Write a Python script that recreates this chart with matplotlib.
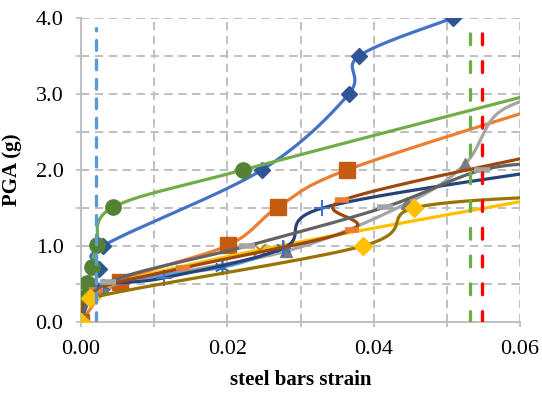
import numpy as np
import matplotlib
matplotlib.use("Agg")
import matplotlib.pyplot as plt

plt.rcParams['font.family'] = ['Liberation Serif', 'DejaVu Serif']
plt.rcParams['lines.scale_dashes'] = False

# ---------------- data ----------------
s1_x = [0, 0.0025, 0.003, 0.0247, 0.0366, 0.038, 0.0508]
s1_y = [0, 0.70, 1.00, 2.00, 3.00, 3.50, 4.00]

s2_x = [0, 0.0053, 0.0201, 0.0269, 0.0363, 0.065]
s2_y = [0, 0.53, 1.01, 1.51, 2.00, 2.89]

s3_x = [0, 0.003, 0.028, 0.0445, 0.0525, 0.057, 0.065]
s3_y = [0, 0.45, 0.93, 1.56, 2.08, 2.75, 3.05]

s4_x = [0, 0.002, 0.0245, 0.065]
s4_y = [0, 0.42, 0.95, 1.67]

s5_x = [0, 0.003, 0.0193, 0.0276]
s5_y = [0, 0.48, 0.72, 0.97]

s6_x = [0, 0.0001, 0.0008, 0.0015, 0.0022, 0.0044, 0.0221, 0.065]
s6_y = [0, 0.31, 0.51, 0.73, 1.01, 1.51, 2.00, 3.08]

s7_x = [0, 0.002, 0.0113, 0.0276, 0.033, 0.065]
s7_y = [0, 0.45, 0.58, 0.97, 1.50, 2.02]

s8_x = [0, 0.002, 0.0139, 0.037, 0.0357, 0.065]
s8_y = [0, 0.42, 0.71, 1.21, 1.60, 2.25]

s9_x = [0, 0.0037, 0.0227, 0.0415, 0.0548, 0.065]
s9_y = [0, 0.52, 1.00, 1.51, 2.00, 2.10]

s10_x = [0, 0.0012, 0.0385, 0.0455, 0.065]
s10_y = [0, 0.31, 1.00, 1.50, 1.66]

limit_x = [0.0021, 0.0531, 0.0548]
limit_top = 3.87

x_ticks = [0.00, 0.02, 0.04, 0.06]
y_ticks = [0.0, 1.0, 2.0, 3.0, 4.0]
x_label = "steel bars strain"
y_label = "PGA (g)"

# ---------------- Excel-like smoothing ----------------
XR, YR = 0.06, 4.0
SX, SY = 439 / XR, 304 / YR


def smooth(xs, ys, n=40):
    P = np.column_stack([np.asarray(xs, float) * SX, np.asarray(ys, float) * SY])
    out = []
    for i in range(len(P) - 1):
        p0 = P[i - 1] if i > 0 else P[i]
        p1, p2 = P[i], P[i + 1]
        p3 = P[i + 2] if i + 2 < len(P) else P[i + 1]
        c1 = p1 + (p2 - p0) / 6
        c2 = p2 - (p3 - p1) / 6
        t = np.linspace(0, 1, n)[:, None]
        b = (1 - t) ** 3 * p1 + 3 * (1 - t) ** 2 * t * c1 + 3 * (1 - t) * t ** 2 * c2 + t ** 3 * p2
        out.append(b if i == 0 else b[1:])
    out = np.vstack(out)
    return out[:, 0] / SX, out[:, 1] / SY


fig = plt.figure(figsize=(5.42, 3.94), dpi=100)
ax = fig.add_axes([81 / 542, (394 - 322) / 394, (520 - 81) / 542, (322 - 18) / 394])

series = [
    (s1_x, s1_y, '#4472C4', dict(marker='D', ms=8.5, mfc='#2F5597', mec='#2F5597'), None),
    (s2_x, s2_y, '#ED7D31', dict(marker='s', ms=11, mfc='#C55A11', mec='#C55A11'), None),
    (s3_x, s3_y, '#A5A5A5', dict(marker='^', ms=8, mfc='#7B7B7B', mec='#7B7B7B'), [0, 1, 2, 3, 4]),
    (s4_x, s4_y, '#FFC000', dict(marker='x', ms=8, mew=1.5, mec='#BF9000'), None),
    (s5_x, s5_y, '#5B9BD5', dict(marker=(6, 2, 0), ms=11, mew=1.2, mec='#2E75B6'), None),
    (s6_x, s6_y, '#70AD47', dict(marker='o', ms=11, mfc='#548235', mec='#548235'), None),
    (s7_x, s7_y, '#264478', dict(marker='+', ms=12, mew=1.5, mec='#4472C4'), None),
    (s8_x, s8_y, '#9E480E', dict(marker='_', ms=10, mew=4, mec='#ED7D31'), None),
    (s9_x, s9_y, '#636363', dict(marker='_', ms=11, mew=4, mec='#A5A5A5'), None),
    (s10_x, s10_y, '#997300', dict(marker='D', ms=9.5, mfc='#FFC000', mec='#FFC000'), None),
]

z = 3
for xs, ys, col, mk, every in series:
    sx, sy = smooth(xs, ys)
    ax.plot(sx, sy, color=col, lw=2.3, solid_capstyle='round', zorder=z)
    n = len(xs)
    idx = every if every is not None else [i for i in range(n) if xs[i] <= 0.06]
    ax.plot([xs[i] for i in idx], [ys[i] for i in idx], ls='none', zorder=z + 0.5, **mk)
    z += 1

# vertical limit lines
lim_cols = ['#5B9BD5', '#70AD47', '#FF0000']
lim_dash = [(7, 7), (7.8, 12.2), (7.8, 12.2)]
for xv, c, d in zip(limit_x, lim_cols, lim_dash):
    ax.plot([xv, xv], [0, limit_top], color=c, lw=2.4, dashes=d,
            dash_capstyle='round', zorder=z)
    z += 1

# axes styling
ax.set_xlim(0, 0.06)
ax.set_ylim(0, 4.0)
ax.set_xticks(np.arange(0, 0.0601, 0.01))
ax.set_xticklabels(['%.2f' % v if any(abs(v - t) < 1e-9 for t in x_ticks) else ''
                    for v in np.arange(0, 0.0601, 0.01)])
ax.set_yticks(np.arange(0, 4.01, 0.5))
ax.set_yticklabels(['%.1f' % v if any(abs(v - t) < 1e-9 for t in y_ticks) else ''
                    for v in np.arange(0, 4.01, 0.5)])
ax.grid(True, color='#BFBFBF', lw=1.4, linestyle=(0, (6, 4)), zorder=0)
for side in ['top', 'right']:
    ax.spines[side].set_visible(False)
for side in ['left', 'bottom']:
    ax.spines[side].set_color('#BFBFBF')
    ax.spines[side].set_linewidth(1.4)
ax.tick_params(axis='both', direction='out', length=3.6, width=1.3, color='#BFBFBF',
               labelsize=16, labelcolor='black', pad=9)
ax.set_xlabel(x_label, fontsize=15, fontweight='bold', labelpad=8)
ax.set_ylabel(y_label, fontsize=15, fontweight='bold', labelpad=10)

fig.savefig('out.png', dpi=100)
